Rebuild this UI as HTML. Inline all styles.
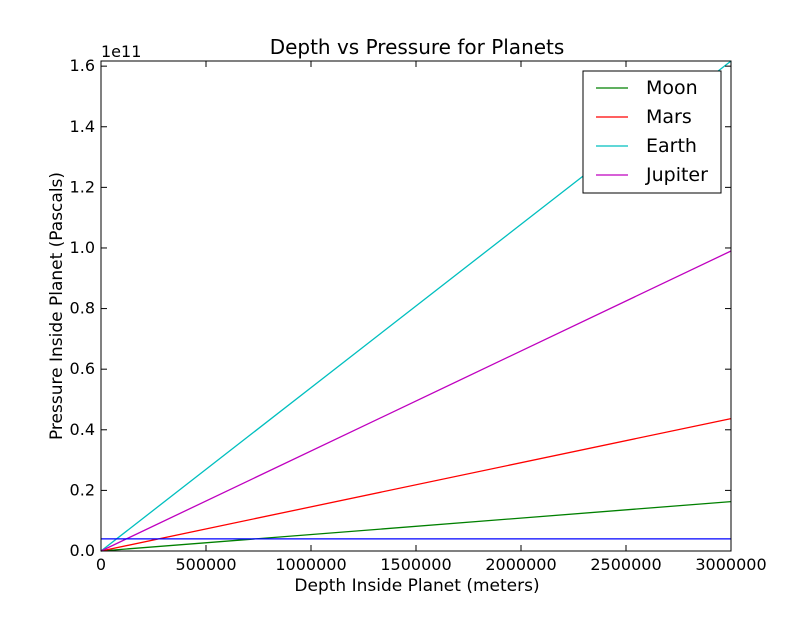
<!DOCTYPE html>
<html><head><meta charset="utf-8"><style>
body{margin:0;background:#fff;}
svg text{font-family:"DejaVu Sans","Liberation Sans",sans-serif;fill:#000;}
</style></head><body>
<svg width="812" height="612" id="c">
<rect x="0" y="0" width="812" height="612" fill="#fff"/>
<g id="plot"></g>
</svg>
<script>
const depthsX = [0, 3000000];
const moonVals = [0, 0.163e11];
const marsVals = [0, 0.437e11];
const earthVals = [0, 1.617e11];
const jupiterVals = [0, 0.99e11];
const baselineVals = [0.04e11, 0.04e11];
const seriesNames = ["Moon","Mars","Earth","Jupiter"];
const xTicks = [0,500000,1000000,1500000,2000000,2500000,3000000];
const yTicks = [0,0.2,0.4,0.6,0.8,1.0,1.2,1.4,1.6];
const L=101,R=731,T=61,B=551,XMAX=3000000,YMAX=1.617e11;
const sx=v=>L+(v/XMAX)*(R-L);
const sy=v=>B-(v/YMAX)*(B-T);
const NS="http://www.w3.org/2000/svg";
const g=document.getElementById('plot');
function mk(t,a,txt){const e=document.createElementNS(NS,t);for(const k in a)e.setAttribute(k,a[k]);if(txt!==undefined)e.textContent=txt;g.appendChild(e);return e;}
function line(vals,color,name){
 const p=mk('polyline',{points:depthsX.map((x,i)=>sx(x)+','+sy(vals[i])).join(' '),fill:'none',stroke:color,'stroke-width':1.3});
 
 
}
line(moonVals,'#008000','moon-line');
line(marsVals,'#ff0000','mars-line');
line(earthVals,'#00bfbf','earth-line');
line(jupiterVals,'#bf00bf','jupiter-line');
line(baselineVals,'#0000ff','baseline-line');
const frame=mk('rect',{x:L,y:T,width:R-L,height:B-T,fill:'none',stroke:'#000','stroke-width':1});


xTicks.forEach(v=>{const x=sx(v);
 mk('line',{x1:x,x2:x,y1:B,y2:B-6,stroke:'#000'});mk('line',{x1:x,x2:x,y1:T,y2:T+6,stroke:'#000'});
 const t=mk('text',{x:x,y:B+19,'text-anchor':'middle','font-size':16},String(v));
 
 
});
yTicks.forEach(v=>{const y=sy(v*1e11);
 mk('line',{x1:L,x2:L+6,y1:y,y2:y,stroke:'#000'});mk('line',{x1:R,x2:R-6,y1:y,y2:y,stroke:'#000'});
 const t=mk('text',{x:L-6,y:y+5,'text-anchor':'end','font-size':16},v.toFixed(1));
 
 
});
let t;
t=mk('text',{x:101,y:57,'font-size':16},'1e11');
t=mk('text',{x:417,y:54,'text-anchor':'middle','font-size':20},'Depth vs Pressure for Planets');
t=mk('text',{x:417,y:591,'text-anchor':'middle','font-size':17},'Depth Inside Planet (meters)');
t=mk('text',{x:0,y:0,'text-anchor':'middle','font-size':17,transform:'translate(62,306) rotate(-90)'},'Pressure Inside Planet (Pascals)');
const lg=mk('rect',{x:583,y:71,width:138,height:122,fill:'#fff',stroke:'#000'});

const cols=['#008000','#ff0000','#00bfbf','#bf00bf'];
seriesNames.forEach((n,i)=>{const y=88+i*29;
 const l=mk('line',{x1:596,x2:628,y1:y,y2:y,stroke:cols[i],'stroke-width':1.3});
 
 const tx=mk('text',{x:646,y:y+6,'font-size':19},n);
 
});
</script>
</body></html>
